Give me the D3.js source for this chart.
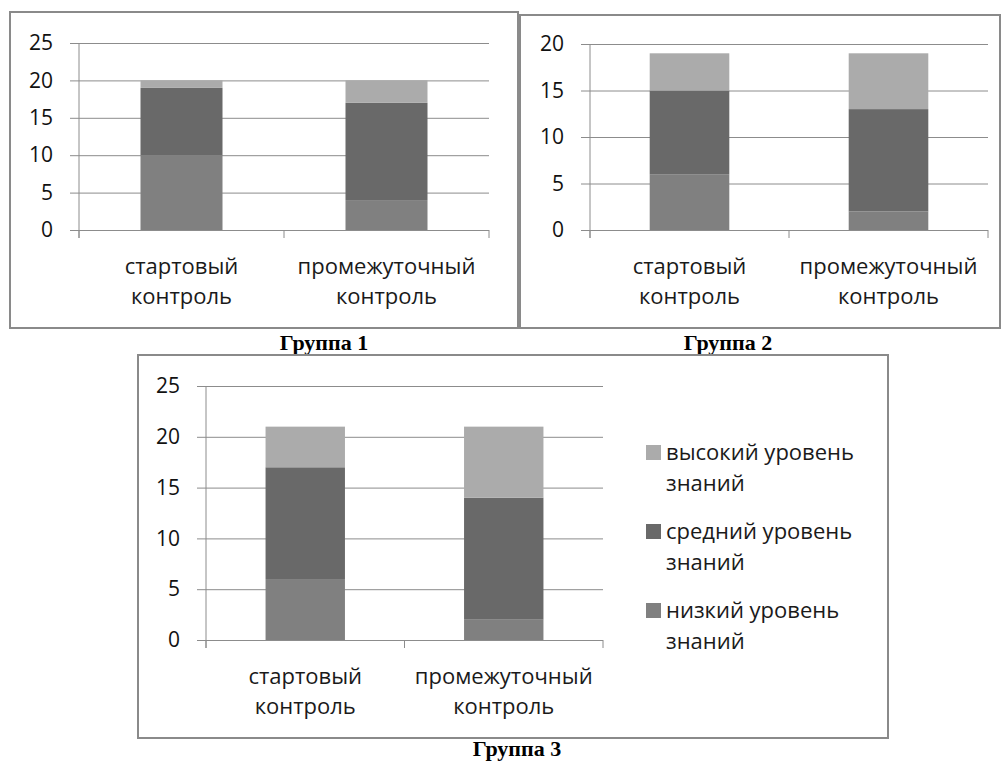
<!DOCTYPE html>
<html>
<head>
<meta charset="utf-8">
<script src="https://cdn.jsdelivr.net/npm/d3@7"></script>
<style>
  body { margin: 0; background: #fff; }
  svg { display: block; }
</style>
</head>
<body>
<script>
// data
var categories = [['стартовый', 'контроль'], ['промежуточный', 'контроль']];
var levels = ['низкий уровень знаний', 'средний уровень знаний', 'высокий уровень знаний'];
var legendLines = [['высокий уровень', 'знаний'], ['средний уровень', 'знаний'], ['низкий уровень', 'знаний']];
var captions = ['Группа 1', 'Группа 2', 'Группа 3'];

var group1Low = [10, 4];
var group1Mid = [9, 13];
var group1High = [1, 3];

var group2Low = [6, 2];
var group2Mid = [9, 11];
var group2High = [4, 6];

var group3Low = [6, 2];
var group3Mid = [11, 12];
var group3High = [4, 7];

var ticks25 = [0, 5, 10, 15, 20, 25];
var ticks20 = [0, 5, 10, 15, 20];

var colors = ['#808080', '#696969', '#ababab'];
var color = d3.scaleOrdinal().domain(levels).range(colors);

var width = 1003, height = 763;
var svg = d3.select('body').append('svg')
    .attr('width', width)
    .attr('height', height);

svg.append('rect').attr('width', width).attr('height', height).attr('fill', '#fff');

function drawPanel(p) {
    var g = svg.append('g');

    g.append('rect')
        .attr('x', p.box[0]).attr('y', p.box[1])
        .attr('width', p.box[2]).attr('height', p.box[3])
        .attr('fill', '#fff')
        .attr('stroke', '#8a8a8a')
        .attr('stroke-width', 2);

    var x = d3.scaleBand()
        .domain(d3.range(categories.length))
        .range([p.left, p.right])
        .paddingInner(0.6)
        .paddingOuter(0.3);

    var y = d3.scaleLinear()
        .domain([0, d3.max(p.ticks)])
        .range([p.bottom, p.top]);

    // gridlines
    g.append('g')
        .attr('transform', 'translate(' + p.left + ',0)')
        .call(d3.axisLeft(y).tickValues(p.ticks).tickSize(-(p.right - p.left)).tickFormat(''))
        .call(function (s) {
            s.select('.domain').remove();
            s.selectAll('line').attr('stroke', '#8c8c8c');
        });

    // y axis with labels
    g.append('g')
        .attr('transform', 'translate(' + p.left + ',0)')
        .call(d3.axisLeft(y).tickValues(p.ticks).tickSize(9).tickSizeOuter(0).tickPadding(17))
        .call(function (s) {
            s.select('.domain').remove();
            s.selectAll('line').attr('stroke', '#8c8c8c');
            s.selectAll('text')
                .attr('font-family', '"Open Sans", sans-serif')
                .attr('font-size', 21)
                .attr('fill', '#111');
        });

    // vertical axis line, goes a little below zero
    g.append('line')
        .attr('x1', p.left).attr('x2', p.left)
        .attr('y1', y(d3.max(p.ticks))).attr('y2', y(0) + 8)
        .attr('stroke', '#8c8c8c');

    // category boundary ticks
    var bounds = d3.range(categories.length + 1).map(function (i) {
        return p.left + i * x.step();
    });
    g.selectAll('.ctick')
        .data(bounds)
        .enter()
        .append('line')
        .attr('x1', function (d) { return d; })
        .attr('x2', function (d) { return d; })
        .attr('y1', y(0))
        .attr('y2', y(0) + 8)
        .attr('stroke', '#8c8c8c');

    // stacked bars
    var rows = categories.map(function (c, i) {
        return { i: i, low: p.low[i], mid: p.mid[i], high: p.high[i] };
    });
    var stack = d3.stack().keys(['low', 'mid', 'high']);
    var series = stack(rows);

    g.selectAll('.layer')
        .data(series)
        .enter()
        .append('g')
        .attr('fill', function (d, i) { return color(levels[i]); })
        .selectAll('rect')
        .data(function (d) { return d; })
        .enter()
        .append('rect')
        .attr('x', function (d) { return x(d.data.i); })
        .attr('y', function (d) { return y(d[1]); })
        .attr('width', x.bandwidth())
        .attr('height', function (d) { return y(d[0]) - y(d[1]); });

    // category labels
    var labels = g.selectAll('.cat')
        .data(categories)
        .enter()
        .append('text')
        .attr('text-anchor', 'middle')
        .attr('font-family', '"Open Sans", sans-serif')
        .attr('font-size', 22)
        .attr('fill', '#1a1a1a');
    labels.selectAll('tspan')
        .data(function (d, i) { return d.map(function (t) { return { t: t, i: i }; }); })
        .enter()
        .append('tspan')
        .attr('x', function (d) { return x(d.i) + x.bandwidth() / 2; })
        .attr('y', function (d, j) { return y(0) + 44 + j * 30; })
        .text(function (d) { return d.t; });

    // caption
    svg.append('text')
        .attr('x', p.caption[0])
        .attr('y', p.caption[1])
        .attr('text-anchor', 'middle')
        .attr('font-family', '"Liberation Serif", "Times New Roman", serif')
        .attr('font-weight', 'bold')
        .attr('font-size', 22)
        .attr('fill', '#000')
        .text(p.title);

    return g;
}

drawPanel({
    box: [10, 12, 508, 316],
    left: 79, right: 489, top: 43, bottom: 230,
    ticks: ticks25,
    low: group1Low, mid: group1Mid, high: group1High,
    title: captions[0], caption: [324, 350]
});

drawPanel({
    box: [520, 15, 480, 313],
    left: 590, right: 988, top: 44, bottom: 230,
    ticks: ticks20,
    low: group2Low, mid: group2Mid, high: group2High,
    title: captions[1], caption: [728, 350]
});

var g3 = drawPanel({
    box: [138, 355, 750, 383],
    left: 206, right: 603, top: 386, bottom: 640,
    ticks: ticks25,
    low: group3Low, mid: group3Mid, high: group3High,
    title: captions[2], caption: [517, 756]
});

// legend of the third panel
var legendColors = [color(levels[2]), color(levels[1]), color(levels[0])];
var legend = g3.selectAll('.legend')
    .data(legendLines)
    .enter()
    .append('g')
    .attr('transform', function (d, i) { return 'translate(646,' + (460 + i * 79) + ')'; });

legend.append('rect')
    .attr('x', 0)
    .attr('y', -15)
    .attr('width', 15)
    .attr('height', 15)
    .attr('fill', function (d, i) { return legendColors[i]; });

legend.append('text')
    .attr('font-family', '"Open Sans", sans-serif')
    .attr('font-size', 22)
    .attr('fill', '#1a1a1a')
    .selectAll('tspan')
    .data(function (d) { return d; })
    .enter()
    .append('tspan')
    .attr('x', 20)
    .attr('y', function (d, j) { return j * 31; })
    .text(function (d) { return d; });
</script>
</body>
</html>
